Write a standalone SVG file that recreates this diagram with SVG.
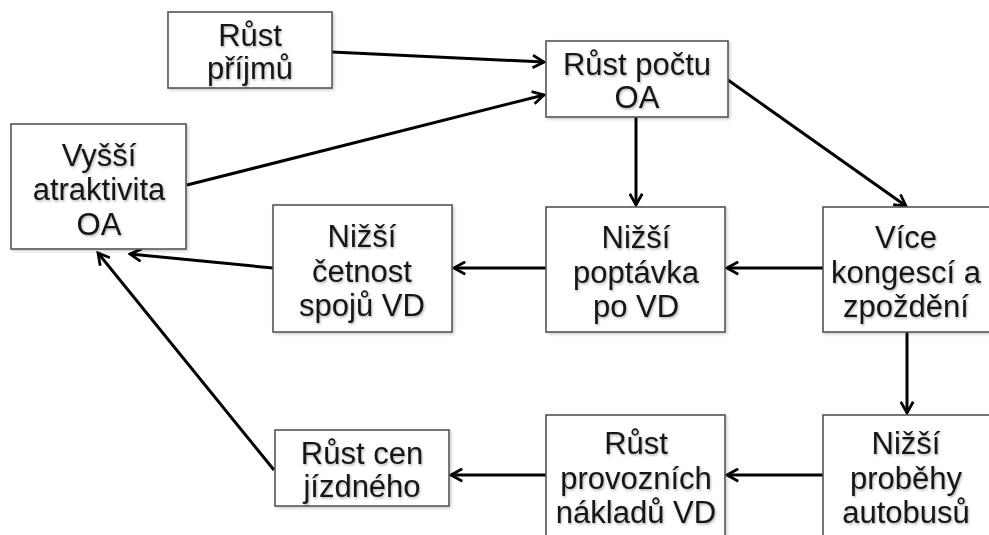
<svg xmlns="http://www.w3.org/2000/svg" width="989" height="535" viewBox="0 0 989 535">
<defs>
<style>
.box{fill:#fff;stroke:#555;stroke-width:1.6;filter:url(#bs)}
.t{font-family:"Liberation Sans",Arial,sans-serif;font-size:31px;fill:#151515;text-anchor:middle;filter:url(#ts)}
.c{stroke:#000;stroke-width:3;fill:none;marker-end:url(#ah)}
</style>
<filter id="ts" x="-10%" y="-20%" width="130%" height="150%">
<feDropShadow dx="1" dy="1.5" stdDeviation="1.2" flood-color="#000" flood-opacity="0.3"/>
</filter>
<filter id="bs" x="-5%" y="-5%" width="115%" height="115%">
<feDropShadow dx="1.5" dy="1.5" stdDeviation="1.5" flood-color="#000" flood-opacity="0.2"/>
</filter>
<marker id="ah" viewBox="0 0 12 12" refX="10" refY="6" markerWidth="5" markerHeight="5" orient="auto" markerUnits="strokeWidth">
<path d="M1,1 L10,6 L1,11" fill="none" stroke="#000" stroke-width="2.2"/>
</marker>
</defs>
<rect width="989" height="535" fill="#fff"/>
<g id="connectors">
<line class="c" x1="332" y1="52" x2="544" y2="62"/>
<line class="c" x1="187" y1="185" x2="544" y2="95"/>
<line class="c" x1="636" y1="117" x2="636" y2="205"/>
<line class="c" x1="728" y1="80" x2="906" y2="206"/>
<line class="c" x1="823" y1="268" x2="727" y2="268"/>
<line class="c" x1="546" y1="268" x2="454" y2="268"/>
<line class="c" x1="273" y1="268" x2="130" y2="254"/>
<line class="c" x1="907" y1="332" x2="907" y2="413"/>
<line class="c" x1="823" y1="475" x2="727" y2="475"/>
<line class="c" x1="546" y1="475" x2="451" y2="475"/>
<line class="c" x1="274" y1="470" x2="98" y2="253"/>
</g>
<g id="n1"><rect class="box" x="168" y="12" width="164" height="76"/>
<text class="t" x="250" y="46">Růst</text><text class="t" x="250" y="79">příjmů</text></g>
<g id="n2"><rect class="box" x="546" y="41" width="182" height="76"/>
<text class="t" x="637" y="75">Růst počtu</text><text class="t" x="637" y="108">OA</text></g>
<g id="n3"><rect class="box" x="11" y="124" width="175" height="125"/>
<text class="t" x="99" y="166">Vyšší</text><text class="t" x="99" y="200">atraktivita</text><text class="t" x="99" y="235">OA</text></g>
<g id="n4"><rect class="box" x="273" y="205" width="179" height="127"/>
<text class="t" x="362" y="247">Nižší</text><text class="t" x="362" y="282">četnost</text><text class="t" x="362" y="316">spojů VD</text></g>
<g id="n5"><rect class="box" x="546" y="207" width="179" height="125"/>
<text class="t" x="636" y="248">Nižší</text><text class="t" x="636" y="283">poptávka</text><text class="t" x="636" y="317">po VD</text></g>
<g id="n6"><rect class="box" x="823" y="207" width="170" height="125"/>
<text class="t" x="906" y="248">Více</text><text class="t" x="906" y="283">kongescí a</text><text class="t" x="906" y="317">zpoždění</text></g>
<g id="n7"><rect class="box" x="823" y="415" width="170" height="130"/>
<text class="t" x="906" y="454">Nižší</text><text class="t" x="906" y="489">proběhy</text><text class="t" x="906" y="523">autobusů</text></g>
<g id="n8"><rect class="box" x="546" y="415" width="179" height="130"/>
<text class="t" x="636" y="454">Růst</text><text class="t" x="636" y="489">provozních</text><text class="t" x="636" y="523">nákladů VD</text></g>
<g id="n9"><rect class="box" x="275" y="430" width="174" height="76"/>
<text class="t" x="362" y="464">Růst cen</text><text class="t" x="362" y="497">jízdného</text></g>
</svg>
